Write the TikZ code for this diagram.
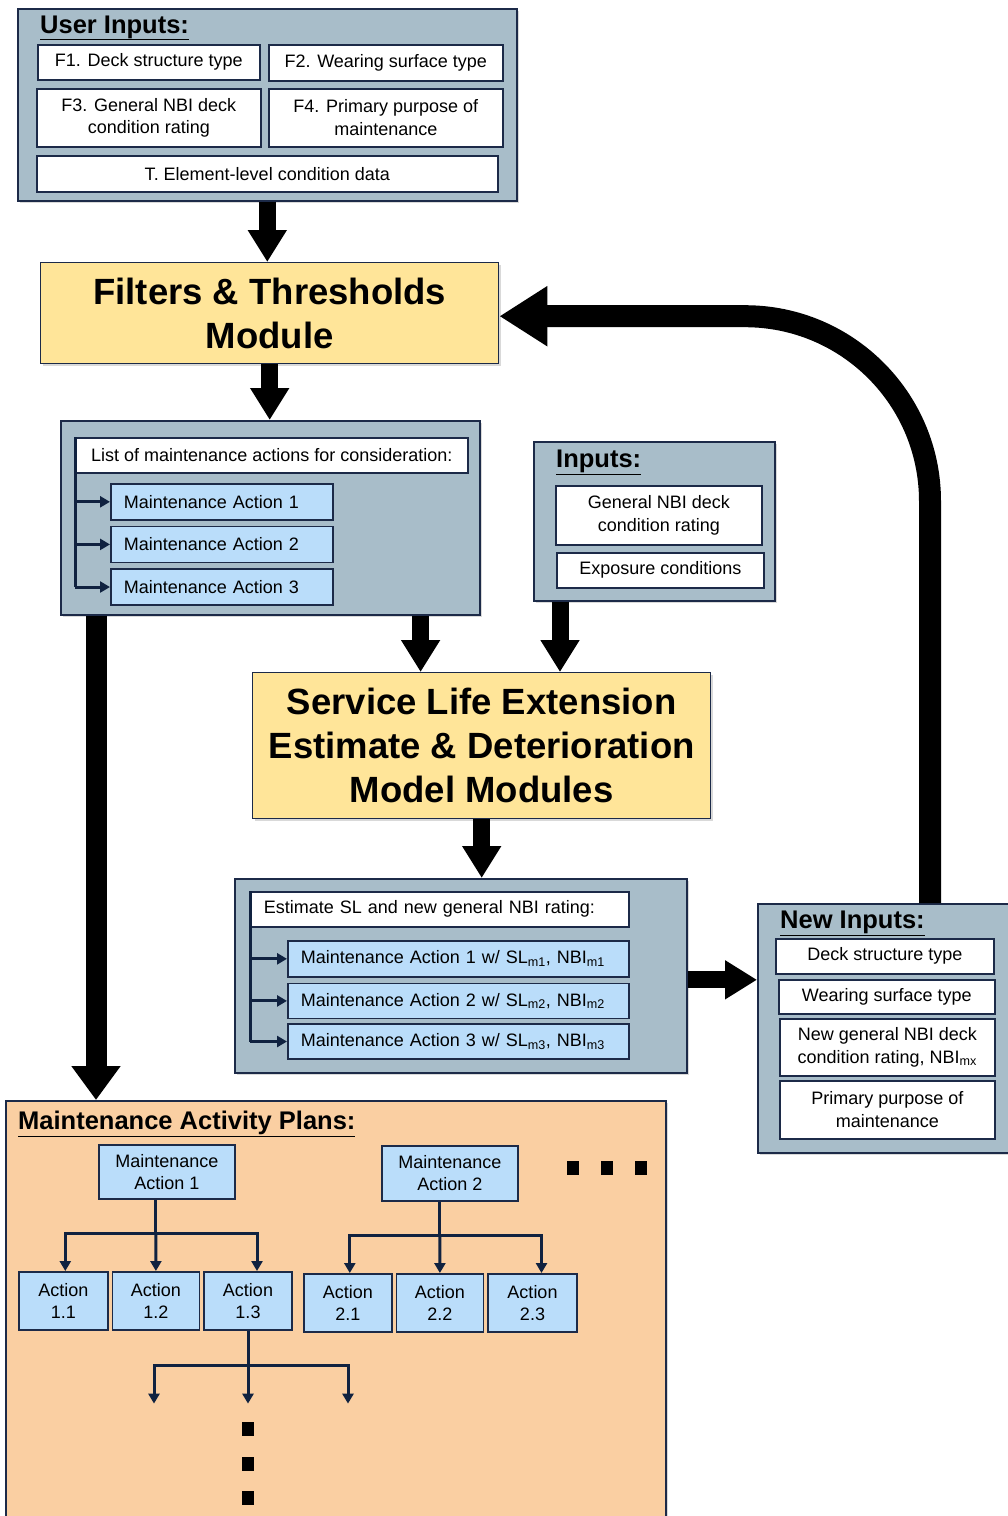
\documentclass[tikz,border=0pt]{standalone}
\usepackage{fontspec}
\setmainfont{Liberation Sans}
\usetikzlibrary{arrows.meta, positioning, calc, shadows}
\definecolor{panelc}{RGB}{168,189,201}
\definecolor{edgec}{RGB}{28,42,72}
\definecolor{yellowc}{RGB}{255,229,153}
\definecolor{bluec}{RGB}{186,221,250}
\definecolor{peachc}{RGB}{250,207,162}
\definecolor{linec}{RGB}{16,34,64}
\tikzset{
  panel/.style={draw=edgec, line width=1.6pt, fill=panelc, inner sep=0pt, anchor=north west,
    drop shadow={opacity=0.3, shadow xshift=2pt, shadow yshift=-2pt}},
  module/.style={draw=edgec, line width=1.4pt, fill=yellowc, align=center, inner sep=0pt, anchor=north west,
    font=\bfseries\fontsize{36.5}{44}\selectfont,
    drop shadow={opacity=0.3, shadow xshift=2pt, shadow yshift=-2pt}},
  heading/.style={anchor=base west, inner sep=0pt, font=\bfseries\fontsize{25.5}{30}\selectfont},
  inbox/.style={draw=edgec, line width=1.6pt, fill=white, align=center, inner sep=0pt, anchor=north west,
    font=\fontsize{18}{22.5}\selectfont},
  bluebox/.style={inbox, fill=bluec},
  itembox/.style={bluebox, align=left, inner xsep=13pt},
  dot/.style={fill=black, minimum width=12pt, minimum height=14pt, inner sep=0pt},
  bigarrow/.style={line width=17pt, -{Triangle[width=37pt,length=32pt]}},
  stem/.style={draw=linec, line width=3pt},
  branch/.style={stem, -{Triangle[width=11pt,length=10pt]}},
}
\begin{document}
\begin{tikzpicture}[x=1pt, y=-1pt]
\useasboundingbox (0,0) rectangle (1008,1516);

% user inputs
\node[panel, minimum width=499pt, minimum height=192pt] (ui) at (17,8) {};
\node[heading] (uih) at (40,33) {\underline{User Inputs:}};
\node[inbox, minimum width=222pt, minimum height=35pt] (f1) at (37,44) {F1. Deck structure type};
\node[inbox, minimum width=234pt, minimum height=36pt] (f2) at (268,44) {F2. Wearing surface type};
\node[inbox, minimum width=224pt, minimum height=58pt] (f3) at (36,88) {F3. General NBI deck\\condition rating};
\node[inbox, minimum width=234pt, minimum height=58pt] (f4) at (268,88) {F4. Primary purpose of\\maintenance};
\node[inbox, minimum width=461pt, minimum height=36pt] (td) at (36,155) {T. Element-level condition data};

% filters module
\node[module, minimum width=458pt, minimum height=101pt] (ft) at (40,262) {Filters \& Thresholds\\Module};

% list of actions
\node[panel, minimum width=419pt, minimum height=194pt] (lp) at (60,420) {};
\node[inbox, minimum width=392pt, minimum height=35pt] (lh) at (75,437) {List of maintenance actions for consideration:};
\node[itembox, text width=196pt, minimum height=36pt] (m1) at (110,483) {Maintenance Action 1};
\node[itembox, text width=196pt, minimum height=36pt, below=5pt of m1] (m2) {Maintenance Action 2};
\node[itembox, text width=196pt, minimum height=36pt, below=5pt of m2] (m3) {Maintenance Action 3};
\draw[stem] (lh.north west) -- (lh.north west |- m3.west);
\foreach \m in {m1,m2,m3}
  \draw[branch] (lh.north west |- \m.west) -- (\m.west);

% inputs
\node[panel, minimum width=241pt, minimum height=159pt] (ip) at (533,441) {};
\node[heading] (iph) at (556,467) {\underline{Inputs:}};
\node[inbox, minimum width=206pt, minimum height=59pt] (gn) at (555,485) {General NBI deck\\condition rating};
\node[inbox, minimum width=207pt, minimum height=35pt] (ex) at (556,552) {Exposure conditions};

% service life module
\node[module, minimum width=458pt, minimum height=146pt] (sle) at (252,672) {Service Life Extension\\Estimate \& Deterioration\\Model Modules};

% estimates
\node[panel, minimum width=452pt, minimum height=194pt] (ep) at (234,878) {};
\node[inbox, align=left, inner xsep=13pt, text width=352pt, minimum height=35pt] (eh) at (250,891) {Estimate SL and new general NBI rating:};
\node[itembox, text width=315pt, minimum height=36pt] (e1) at (287,940) {Maintenance Action 1 w/ SL\textsubscript{m1}, NBI\textsubscript{m1}};
\node[itembox, text width=315pt, minimum height=35pt, below=5pt of e1] (e2) {Maintenance Action 2 w/ SL\textsubscript{m2}, NBI\textsubscript{m2}};
\node[itembox, text width=315pt, minimum height=35pt, below=4pt of e2] (e3) {Maintenance Action 3 w/ SL\textsubscript{m3}, NBI\textsubscript{m3}};
\draw[stem] (eh.north west) -- (eh.north west |- e3.west);
\foreach \m in {e1,e2,e3}
  \draw[branch] (eh.north west |- \m.west) -- (\m.west);

% new inputs
\node[panel, minimum width=262pt, minimum height=249pt] (np) at (757,903) {};
\node[heading] (nph) at (780,928) {\underline{New Inputs:}};
\node[inbox, minimum width=218pt, minimum height=35pt] (n1) at (775,938) {Deck structure type};
\node[inbox, minimum width=216pt, minimum height=34pt] (n2) at (778,979) {Wearing surface type};
\node[inbox, minimum width=215pt, minimum height=57pt] (n3) at (779,1018) {New general NBI deck\\condition rating, NBI\textsubscript{mx}};
\node[inbox, minimum width=215pt, minimum height=58pt] (n4) at (779,1080) {Primary purpose of\\maintenance};

% activity plans
\node[panel, fill=peachc, minimum width=660pt, minimum height=440pt] (pp) at (5,1100) {};
\node[heading] (pph) at (18,1129) {\underline{Maintenance Activity Plans:}};
\node[bluebox, minimum width=136pt, minimum height=54pt] (p1) at (98,1144) {Maintenance\\Action 1};
\node[bluebox, minimum width=136pt, minimum height=55pt] (p2) at (381,1145) {Maintenance\\Action 2};
\node[bluebox, minimum width=89pt, minimum height=58pt] (a11) at (18,1271) {Action\\1.1};
\node[bluebox, minimum width=87pt, minimum height=58pt, right=3pt of a11] (a12) {Action\\1.2};
\node[bluebox, minimum width=88pt, minimum height=58pt, right=3pt of a12] (a13) {Action\\1.3};
\node[bluebox, minimum width=88pt, minimum height=58pt] (a21) at (303,1273) {Action\\2.1};
\node[bluebox, minimum width=87pt, minimum height=58pt, right=3pt of a21] (a22) {Action\\2.2};
\node[bluebox, minimum width=89pt, minimum height=58pt, right=3pt of a22] (a23) {Action\\2.3};
\foreach \x in {573,607,641}
  \node[dot] (hd\x) at (\x,1168) {};

% trees
\coordinate (k1) at ($(p1.south -| a12.north)!0.47!(a12.north)$);
\draw[stem] (p1.south -| k1) -- (k1);
\draw[branch] (k1) -- (a12.north);
\draw[branch] (k1) -| ([xshift=2pt]a11.north);
\draw[branch] (k1) -| ([xshift=9pt]a13.north);
\coordinate (k2) at ($(p2.south -| a22.north)!0.47!(a22.north)$);
\draw[stem] (p2.south -| k2) -- (k2);
\draw[branch] (k2) -- (a22.north);
\draw[branch] (k2) -| ([xshift=2pt]a21.north);
\draw[branch] (k2) -| ([xshift=9pt]a23.north);
\coordinate (k3) at ($(a13.south)+(0,35)$);
\coordinate (t1) at ($(k3)+(-94,38)$);
\coordinate (t2) at ($(k3)+(0,38)$);
\coordinate (t3) at ($(k3)+(100,38)$);
\draw[stem] (a13.south) -- (k3);
\draw[branch] (k3) -- (t2);
\draw[branch] (k3) -| (t1);
\draw[branch] (k3) -| (t3);
\foreach \y [count=\i] in {1429,1464,1498}
  \node[dot] (vd\i) at (k3 |- 0,\y) {};

% big arrows
\draw[bigarrow] (ui.south) -- (ui.south |- ft.north);
\draw[bigarrow] (ft.south) -- (ft.south |- lp.north);
\draw[bigarrow] ([xshift=-60pt]lp.south east) -- ([xshift=-60pt]lp.south east |- sle.north);
\draw[bigarrow] ([xshift=27pt]ip.south west) -- ([xshift=27pt]ip.south west |- sle.north);
\draw[bigarrow] (sle.south) -- (sle.south |- ep.north);
\draw[bigarrow] ([yshift=-4pt]ep.east) -- ([yshift=-4pt]ep.east -| np.west);
\draw[bigarrow, line width=21pt, -{Triangle[width=47pt,length=34pt]}]
  ([xshift=36pt]lp.south west) -- ([xshift=36pt]lp.south west |- pp.north);
\draw[bigarrow, line width=22pt, -{Triangle[width=57pt,length=48pt]}, rounded corners=185pt]
  ([xshift=173pt]np.north west) |- ([yshift=-3pt]ft.east);

\end{tikzpicture}
\end{document}
